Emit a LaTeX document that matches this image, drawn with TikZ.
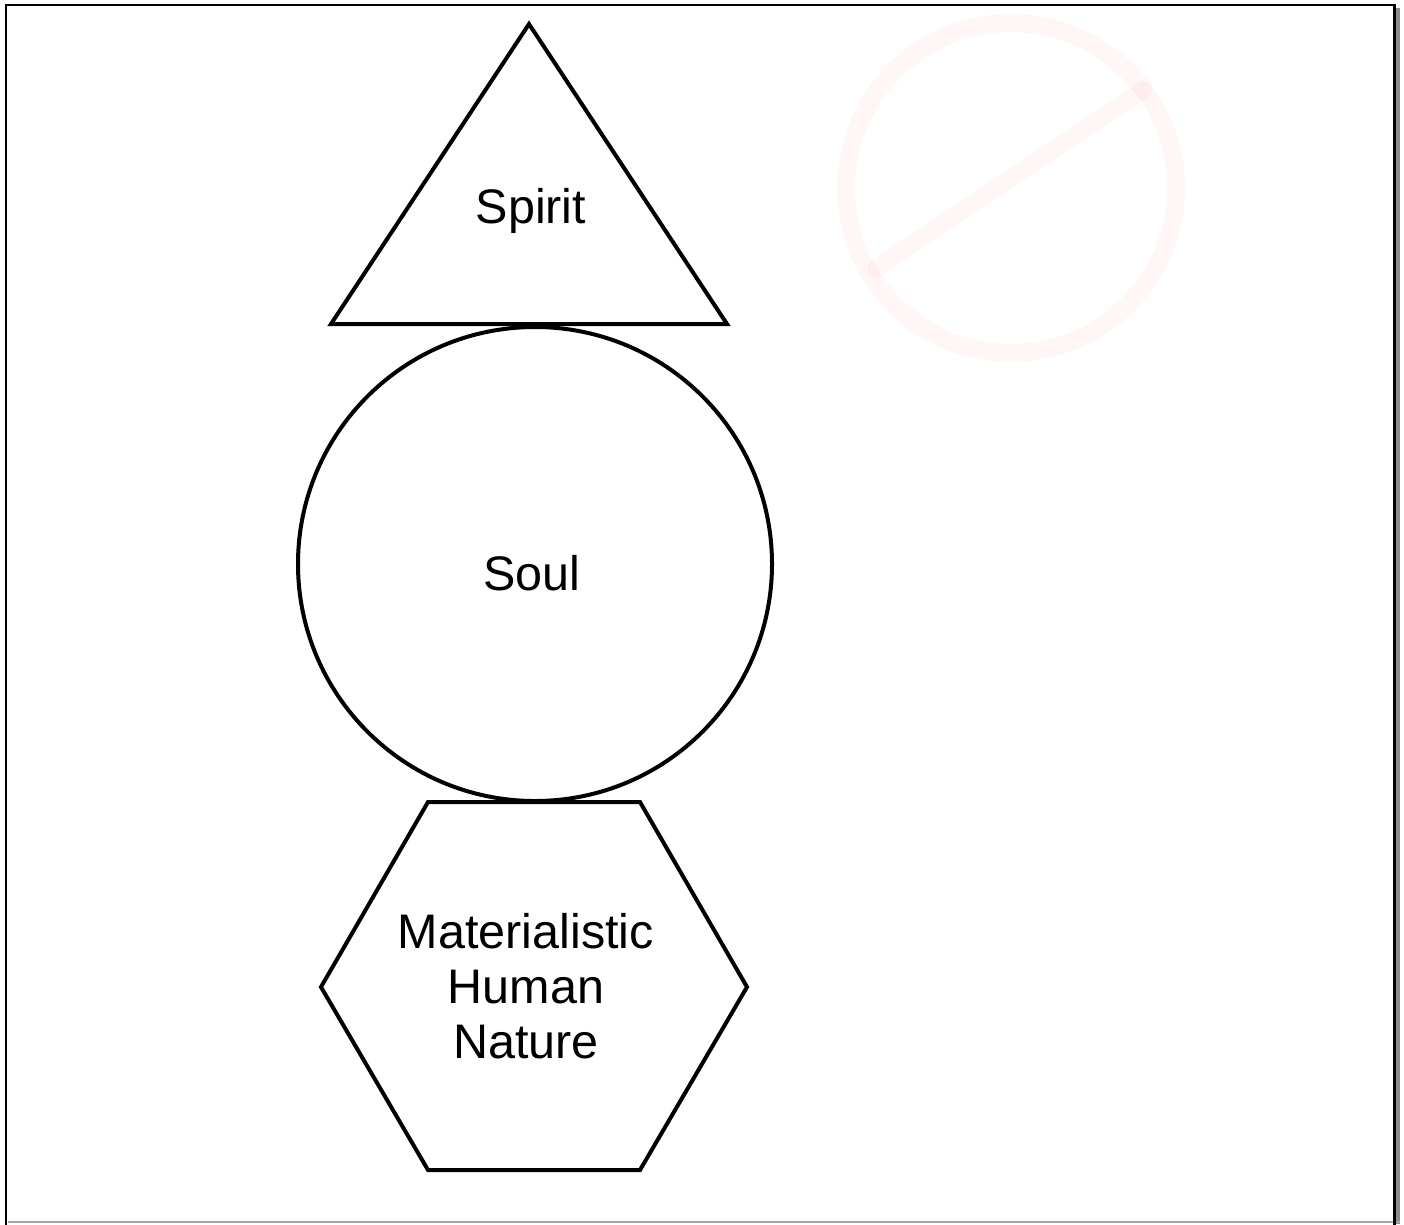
\documentclass[tikz,border=0pt]{standalone}
\usepackage{fontspec}
\setmainfont{Liberation Sans}
\begin{document}
\begin{tikzpicture}[x=1pt,y=-1pt,
  shapeline/.style={draw=black,line width=4pt,line join=miter},
  label/.style={font=\fontsize{48.5}{55}\selectfont,align=center,inner sep=0pt},
  faint/.style={draw=red,draw opacity=0.035,line width=18pt,line cap=round}]
\useasboundingbox (0,0) rectangle (1404,1224);
% frame with shadow
\fill[gray!90] (1396,8) rectangle (1400,1224);
\draw[gray!70,line width=2pt] (8,1222) -- (1400,1222);
\draw[black,line width=2.5pt] (6,1230) -- (6,5) -- (1394.5,5) -- (1394.5,1230);
% faint prohibition sign
\coordinate (pc) at (1011,188);
\draw[faint] (pc) circle[radius=165];
\coordinate (pa) at (877,268);
\coordinate (pb) at (1143,90);
\draw[faint] (pa) -- (pb);
% spirit triangle
\coordinate (t1) at (529,24);
\coordinate (t2) at (727,324);
\coordinate (t3) at (331,324);
\draw[shapeline] (t1) -- (t2) -- (t3) -- cycle;
\node[label] (spirit) at (531,211) {Spirit};
% soul circle
\coordinate (sc) at (535,564);
\draw[shapeline] (sc) circle[radius=237];
\node[label] (soul) at (532,573) {Soul};
% hexagon
\coordinate (h1) at (428,802);
\coordinate (h2) at (640,802);
\coordinate (h3) at (747,987);
\coordinate (h4) at (640,1170);
\coordinate (h5) at (428,1170);
\coordinate (h6) at (321,987);
\draw[shapeline] (h1) -- (h2) -- (h3) -- (h4) -- (h5) -- (h6) -- cycle;
\node[label] (mat) at (526,986) {Materialistic\\Human\\Nature};
\end{tikzpicture}
\end{document}
